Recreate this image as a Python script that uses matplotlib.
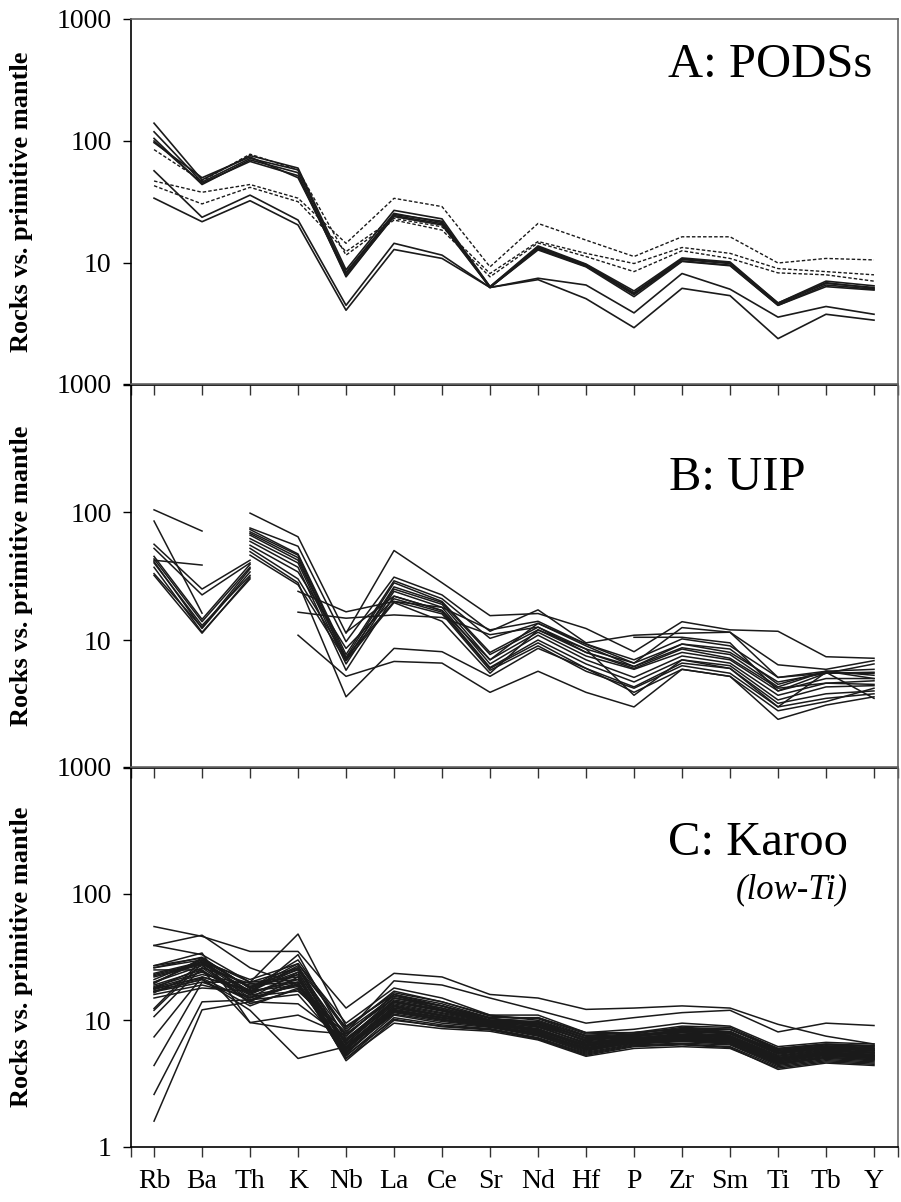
import numpy as np
import matplotlib
matplotlib.use("Agg")
import matplotlib.pyplot as plt
from matplotlib.ticker import FixedLocator, NullLocator

plt.rcParams['font.family'] = ['Liberation Serif', 'DejaVu Serif']

elements = ["Rb", "Ba", "Th", "K", "Nb", "La", "Ce", "Sr", "Nd", "Hf", "P", "Zr", "Sm", "Ti", "Tb", "Y"]
ytick_vals = [1, 10, 100, 1000]
n = np.nan

# ---------------- Panel A: PODSs ----------------
podss_solid = [
    [140, 48, 76, 60, 8.8, 27, 23, 6.4, 13.8, 9.8, 5.9, 11.0, 10.2, 4.7, 7.1, 6.5],
    [119, 46, 72, 58, 8.2, 25, 22, 6.3, 13.3, 9.6, 5.6, 10.7, 9.9, 4.6, 6.8, 6.3],
    [105, 44, 70, 55, 7.7, 24.5, 21, 6.3, 13.0, 9.4, 5.5, 10.4, 9.6, 4.5, 6.6, 6.1],
    [100, 45, 68, 52, 7.9, 24, 20.5, 6.3, 12.8, 9.3, 5.3, 10.3, 9.5, 4.5, 6.4, 6.0],
    [97, 50, 74, 50, 8.4, 25.5, 21.5, 6.4, 13.5, 9.7, 5.7, 10.8, 10.0, 4.7, 6.9, 6.2],
    [57, 23.7, 36, 22.5, 4.5, 14.5, 11.6, 6.3, 7.5, 6.6, 3.9, 8.2, 6.1, 3.6, 4.4, 3.8],
    [34, 21.8, 32.4, 20.5, 4.1, 12.9, 10.9, 6.3, 7.3, 5.1, 2.95, 6.2, 5.4, 2.4, 3.8, 3.4],
]
podss_dashed = [
    [47, 38, 44, 34, 14.5, 33.9, 29, 9.3, 21.1, 15.4, 11.3, 16.4, 16.4, 10.0, 10.9, 10.6],
    [43, 30.5, 41.7, 31.8, 12.4, 23.2, 19.8, 8.2, 15.0, 12.0, 9.9, 13.4, 12.0, 9.0, 8.5, 8.0],
    [85, 47, 78, 58, 11.6, 22.5, 18.6, 7.7, 14.6, 11.3, 8.5, 12.6, 10.9, 8.3, 8.0, 7.1],
]

# ---------------- Panel B: UIP ----------------
uip = [
    [104, 71, n, n, n, n, n, n, n, n, n, n, n, n, n, n],
    [42, 38.5, n, n, n, n, n, n, n, n, n, n, n, n, n, n],
    [85, 16.2, n, n, n, n, n, n, n, n, n, n, n, n, n, n],
    [56, 25, 42, n, n, n, n, n, n, n, n, n, n, n, n, n],
    [52, 22.5, 40, n, n, n, n, n, n, n, n, n, n, n, n, n],
    [43, 13.9, 37, n, n, n, n, n, n, n, n, n, n, n, n, n],
    [41, 12.3, 34, n, n, n, n, n, n, n, n, n, n, n, n, n],
    [40, 13, 32, n, n, n, n, n, n, n, n, n, n, n, n, n],
    [37, 11.5, 30, n, n, n, n, n, n, n, n, n, n, n, n, n],
    [33, 12.5, 36, n, n, n, n, n, n, n, n, n, n, n, n, n],
    [32, 11.3, 31, n, n, n, n, n, n, n, n, n, n, n, n, n],
    [45, 14.5, 39, n, n, n, n, n, n, n, n, n, n, n, n, n],
    [n, n, 98, 64, 11.3, 50, 28, 15.5, 16.1, 12.3, 8.1, 13.9, 12.0, 11.7, 7.4, 7.2],
    [n, n, 75, 54, 9.7, 31, 22.5, 11.7, 17.2, 9.5, 10.9, 11.3, 11.5, 6.4, 5.9, 6.9],
    [n, n, 73, 47, 7.7, 29, 21, 10.3, 13.5, 9.3, 7.0, 10.2, 9.0, 5.1, 5.7, 5.9],
    [n, n, 70, 46, 7.3, 28, 20, 8.0, 12.6, 8.5, 6.6, 9.3, 8.0, 4.7, 5.5, 5.6],
    [n, n, 68, 44, 6.9, 26, 19.6, 7.7, 12.0, 8.0, 6.2, 8.7, 7.7, 4.3, 5.7, 5.3],
    [n, n, 66, 42, 7.0, 25, 19, 7.0, 11.5, 7.5, 5.9, 8.0, 7.0, 4.0, 5.0, 5.0],
    [n, n, 62, 40, 6.5, 24, 18, 6.5, 10.9, 7.0, 5.1, 7.5, 6.6, 3.7, 4.6, 4.8],
    [n, n, 59, 37, 5.8, 22, 17, 6.1, 10.0, 6.5, 4.7, 7.0, 6.3, 3.4, 4.3, 4.4],
    [n, n, 55, 34, 8.6, 21, 16.5, 6.0, 9.5, 6.0, 4.3, 6.6, 6.0, 3.2, 3.8, 4.0],
    [n, n, 52, 30, 7.3, 20, 16, 5.8, 9.0, 5.7, 4.2, 6.3, 5.5, 3.0, 3.5, 3.8],
    [n, n, 49, 28, 3.6, 8.6, 8.1, 5.2, 8.6, 6.0, 3.9, 5.9, 5.2, 2.4, 3.1, 3.6],
    [n, n, 46, 27, 6.9, 19.6, 14, 5.5, 12.0, 8.5, 3.7, 7.0, 6.0, 3.0, 5.6, 3.5],
    [n, n, n, 24, 16.6, 20, 18, 12, 14, 9.3, 6.6, 12.5, 11.5, 5.1, 5.5, 6.5],
    [n, n, n, 16.5, 14.8, 15.7, 15, 11, 12.6, 8.0, 6.0, 8.5, 7.2, 4.2, 4.6, 4.5],
    [n, n, n, 10.9, 5.2, 6.8, 6.6, 3.9, 5.7, 3.9, 3.0, 5.9, 5.2, 2.8, 3.3, 4.2],
    [n, n, n, n, 11.5, 22, 17, 7.0, 13.5, 9.0, 6.2, 9.3, 8.5, 4.5, 5.7, 5.0],
    [n, n, n, n, n, n, n, n, n, n, 10.5, 10.5, 9.5, 4.0, 5.5, 5.5],
]

# ---------------- Panel C: Karoo (low-Ti) ----------------
karoo = [
    [55, 46, 35, 35, 12.5, 23.5, 22, 16, 15, 12.2, 12.5, 13, 12.5, 9.3, 7.5, 6.5],
    [39, 47, 26, 19, 8, 20.5, 19, 15, 12, 9.5, 10.5, 11.5, 12, 8.1, 9.5, 9.1],
    [39, 33, 20, 48, 9, 16, 12, 10, 10.5, 8, 8, 8.5, 8.5, 6, 6.5, 6.3],
    [27, 31, 18, 30, 8.5, 17, 14, 11, 10, 7.5, 7.5, 8.2, 8, 5.8, 6.2, 6.0],
    [26, 30, 16, 33, 7, 15, 13, 10, 9, 7, 7.8, 7.5, 7.8, 5.5, 6, 5.8],
    [23.5, 29, 17, 27, 6.5, 14, 12, 9.5, 9.5, 6.8, 7.2, 7.8, 7.5, 5.2, 5.8, 5.6],
    [22.5, 28, 18.5, 25, 7.5, 16, 13, 10.5, 9, 6.5, 7.5, 8, 7.2, 5, 5.6, 5.4],
    [20, 27, 15, 24, 6, 13, 11, 9.5, 8.5, 6.2, 7, 7.2, 7, 4.9, 5.5, 5.2],
    [19, 25, 14, 22, 5.5, 12, 10.5, 9, 8, 6, 6.8, 7, 6.8, 4.7, 5.3, 5.0],
    [18.5, 24, 16.5, 21, 6.8, 14.5, 12.5, 10, 9.5, 7.2, 7.5, 8.5, 8.2, 5.6, 6.2, 5.9],
    [18, 23, 19, 20, 5.2, 11, 9.5, 8.8, 7.5, 5.6, 6.5, 6.8, 6.5, 4.5, 5.0, 4.8],
    [17.5, 22, 17, 19, 5.8, 12.5, 11, 9.2, 8.2, 6.3, 7.2, 7.5, 7.3, 5.0, 5.6, 5.3],
    [17, 21, 13, 18, 6.2, 13.5, 11.5, 9.8, 8.8, 6.7, 7.0, 8.0, 7.6, 5.3, 5.9, 5.6],
    [16.8, 20, 20, 22, 4.8, 10, 9, 8.5, 7.2, 5.4, 6.3, 6.5, 6.2, 4.3, 4.8, 4.6],
    [16, 19, 15.5, 17, 7.8, 15, 12.5, 10, 9.8, 7.5, 7.8, 8.8, 8.5, 5.8, 6.3, 6.1],
    [12.4, 30, 18, 26, 6.6, 13.8, 11.8, 9.6, 8.6, 6.4, 7.3, 7.6, 7.4, 5.1, 5.7, 5.5],
    [12, 28, 16, 23, 5.6, 11.5, 10, 9, 7.8, 5.9, 6.6, 7.0, 6.8, 4.6, 5.2, 5.0],
    [10.7, 26, 14.5, 20, 5.0, 10.5, 9.2, 8.6, 7.3, 5.5, 6.4, 6.6, 6.4, 4.4, 4.9, 4.7],
    [7.4, 22, 17.5, 24, 6.4, 12.8, 11, 9.4, 8.4, 6.3, 7.0, 7.4, 7.1, 4.9, 5.5, 5.3],
    [4.4, 20, 15, 19, 5.4, 11.8, 10.2, 9.0, 7.9, 5.9, 6.8, 7.2, 6.9, 4.7, 5.3, 5.1],
    [2.6, 14, 14.5, 16, 6.0, 12.2, 10.6, 9.2, 8.3, 6.1, 6.9, 7.3, 7.0, 4.8, 5.4, 5.2],
    [1.6, 12.1, 14, 13.5, 7.0, 14, 12, 9.8, 9.2, 6.9, 7.4, 8.2, 7.8, 5.4, 6.0, 5.7],
    [27, 34, 9.6, 11, 7.5, 16, 13.5, 10.5, 10.5, 7.8, 8, 8.6, 8.5, 5.9, 6.4, 6.2],
    [25, 25, 9.6, 8.4, 7.8, 15, 13, 10, 9.5, 7.2, 7.6, 8.4, 8.0, 5.6, 6.1, 5.8],
    [17, 21, 12, 5.0, 6.2, 12.5, 10.8, 9.2, 8.5, 6.4, 7.1, 7.4, 7.2, 5.0, 5.6, 5.3],
    [20, 29, 21, 28, 9.5, 18, 15, 11, 11, 8, 8.5, 9.5, 9, 6.2, 6.7, 6.5],
    [21, 30, 20, 26, 8.8, 16.5, 14, 10.8, 10.3, 7.6, 8.0, 9.0, 8.8, 6.0, 6.5, 6.3],
    [15, 18, 17, 20, 5.0, 9.5, 8.6, 8.2, 7.0, 5.2, 6.0, 6.2, 6.0, 4.2, 4.7, 4.5],
    [19.5, 31, 18, 23, 5.3, 10.2, 8.9, 8.4, 7.1, 5.3, 6.2, 6.4, 6.1, 4.1, 4.6, 4.4],
    [18, 26, 19.5, 21, 5.7, 11.2, 9.8, 8.9, 7.6, 5.7, 6.7, 6.9, 6.6, 4.5, 5.1, 4.9],
    [22, 27.5, 13.5, 17.5, 6.9, 13.2, 11.3, 9.6, 8.9, 6.6, 7.3, 7.7, 7.5, 5.2, 5.8, 5.5],
    [16.5, 24.5, 15.8, 18.5, 7.2, 14.2, 12.2, 9.9, 9.3, 7.0, 7.5, 8.1, 7.9, 5.5, 6.0, 5.8],
    [23, 28.5, 16.8, 25.5, 6.1, 12, 10.4, 9.3, 8.1, 6.0, 6.9, 7.1, 6.9, 4.8, 5.4, 5.1],
    [26, 31.5, 17.8, 28, 8.2, 15.5, 13, 10.3, 9.7, 7.3, 7.7, 8.3, 8.1, 5.7, 6.2, 6.0],
    [17.8, 21.5, 14.2, 19.5, 5.9, 11.7, 10.1, 9.1, 7.7, 5.8, 6.6, 6.9, 6.7, 4.6, 5.1, 4.9],
]

LINE_COL = "#1a1a1a"
W, H = 901, 1202
fig = plt.figure(figsize=(W / 100, H / 100), dpi=100)

def make_ax(top_px, bot_px):
    left = 131 / W
    width = (898 - 131) / W
    bottom = 1 - bot_px / H
    height = (bot_px - top_px) / H
    return fig.add_axes([left, bottom, width, height])

axA = make_ax(19, 385)
axB = make_ax(384, 768)
axC = make_ax(767, 1147)

x = np.arange(len(elements))
XL = (-0.48, 15.5)

def style(ax, show_one, show_x):
    ax.set_yscale('log')
    ax.set_ylim(1, 1000)
    ax.set_xlim(*XL)
    ax.yaxis.set_major_locator(FixedLocator(ytick_vals))
    ax.yaxis.set_minor_locator(NullLocator())
    labels = [str(v) for v in ytick_vals]
    if not show_one:
        labels[0] = ''
    ax.set_yticklabels(labels)
    ax.set_xticks(x)
    ax.set_xticks([XL[0], XL[1]], minor=True)
    if show_x:
        ax.set_xticklabels(elements)
    else:
        ax.set_xticklabels([''] * len(elements))
    ax.tick_params(axis='y', which='major', direction='out', length=6, width=1.0,
                   labelsize=20, pad=8, color='black')
    ax.tick_params(axis='x', which='both', direction='out', length=7, width=1.0,
                   labelsize=20, pad=9, color='#333333')
    for s in ['left', 'bottom']:
        ax.spines[s].set_color('black')
        ax.spines[s].set_linewidth(1.2)
    for s in ['top', 'right']:
        ax.spines[s].set_color('#666666')
        ax.spines[s].set_linewidth(1.2)
    ax.set_ylabel('Rocks vs. primitive mantle', fontsize=19, fontweight='bold')
    ax.yaxis.set_label_coords(-0.128, 0.5)
    ax.patch.set_alpha(0)

for row in podss_solid:
    axA.plot(x, row, color=LINE_COL, lw=1.2)
for row in podss_dashed:
    axA.plot(x, row, color=LINE_COL, lw=1.0, dashes=(2.5, 1.5))
for row in uip:
    axB.plot(x, row, color=LINE_COL, lw=1.1)
for row in karoo:
    axC.plot(x, row, color=LINE_COL, lw=1.1)

style(axA, False, False)
style(axB, False, False)
style(axC, True, True)

axA.text(0.967, 0.8415, 'A: PODSs', transform=axA.transAxes, ha='right', va='baseline',
         fontsize=35)
axB.text(0.879, 0.724, 'B: UIP', transform=axB.transAxes, ha='right', va='baseline',
         fontsize=35)
axC.text(0.935, 0.768, 'C: Karoo', transform=axC.transAxes, ha='right', va='baseline',
         fontsize=35)
axC.text(0.935, 0.655, '(low-Ti)', transform=axC.transAxes, ha='right', va='baseline',
         fontsize=25, style='italic')

fig.savefig('out.png', dpi=100)
